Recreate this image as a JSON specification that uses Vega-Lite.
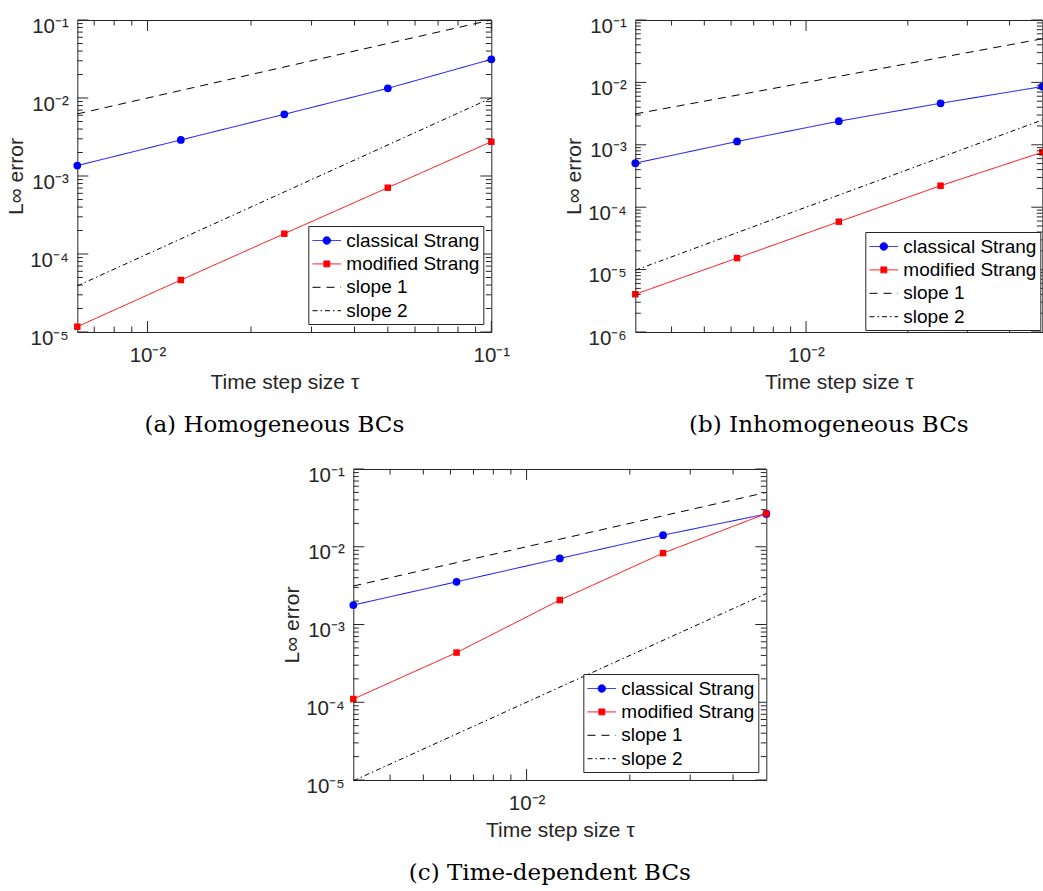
{
  "$schema": "https://vega.github.io/schema/vega-lite/v6.json",
  "background": "white",
  "padding": {"left": 5, "top": 15, "right": 0, "bottom": 0},
  "datasets": {
    "a": [
      {"series": "classical Strang", "tau": 0.00625, "err": 0.00136},
      {"series": "classical Strang", "tau": 0.0125, "err": 0.0029},
      {"series": "classical Strang", "tau": 0.025, "err": 0.00618},
      {"series": "classical Strang", "tau": 0.05, "err": 0.0133},
      {"series": "classical Strang", "tau": 0.1, "err": 0.0313},
      {"series": "modified Strang", "tau": 0.00625, "err": 0.0000117},
      {"series": "modified Strang", "tau": 0.0125, "err": 0.0000464},
      {"series": "modified Strang", "tau": 0.025, "err": 0.000182},
      {"series": "modified Strang", "tau": 0.05, "err": 0.000708},
      {"series": "modified Strang", "tau": 0.1, "err": 0.00275},
      {"series": "slope 1", "tau": 0.00625, "err": 0.00625},
      {"series": "slope 1", "tau": 0.1, "err": 0.1},
      {"series": "slope 2", "tau": 0.00625, "err": 0.0000390625},
      {"series": "slope 2", "tau": 0.1, "err": 0.01}
    ],
    "b": [
      {"series": "classical Strang", "tau": 0.003125, "err": 0.000508},
      {"series": "classical Strang", "tau": 0.00625, "err": 0.00113},
      {"series": "classical Strang", "tau": 0.0125, "err": 0.00239},
      {"series": "classical Strang", "tau": 0.025, "err": 0.00463},
      {"series": "classical Strang", "tau": 0.05, "err": 0.00857},
      {"series": "modified Strang", "tau": 0.003125, "err": 0.00000403},
      {"series": "modified Strang", "tau": 0.00625, "err": 0.0000153},
      {"series": "modified Strang", "tau": 0.0125, "err": 0.0000586},
      {"series": "modified Strang", "tau": 0.025, "err": 0.000221},
      {"series": "modified Strang", "tau": 0.05, "err": 0.00076},
      {"series": "slope 1", "tau": 0.003125, "err": 0.003125},
      {"series": "slope 1", "tau": 0.05, "err": 0.05},
      {"series": "slope 2", "tau": 0.003125, "err": 0.000009765625},
      {"series": "slope 2", "tau": 0.05, "err": 0.0025}
    ],
    "c": [
      {"series": "classical Strang", "tau": 0.003125, "err": 0.00178},
      {"series": "classical Strang", "tau": 0.00625, "err": 0.00354},
      {"series": "classical Strang", "tau": 0.0125, "err": 0.00708},
      {"series": "classical Strang", "tau": 0.025, "err": 0.0141},
      {"series": "classical Strang", "tau": 0.05, "err": 0.0264},
      {"series": "modified Strang", "tau": 0.003125, "err": 0.00011},
      {"series": "modified Strang", "tau": 0.00625, "err": 0.000435},
      {"series": "modified Strang", "tau": 0.0125, "err": 0.00206},
      {"series": "modified Strang", "tau": 0.025, "err": 0.00828},
      {"series": "modified Strang", "tau": 0.05, "err": 0.0267},
      {"series": "slope 1", "tau": 0.003125, "err": 0.003125},
      {"series": "slope 1", "tau": 0.05, "err": 0.05},
      {"series": "slope 2", "tau": 0.003125, "err": 0.000009765625},
      {"series": "slope 2", "tau": 0.05, "err": 0.0025}
    ],
    "ta": [
      {"dir": "x", "v": 0.01, "major": true}, {"dir": "x", "v": 0.1, "major": true},
      {"dir": "x", "v": 0.007, "major": false}, {"dir": "x", "v": 0.008, "major": false}, {"dir": "x", "v": 0.009, "major": false},
      {"dir": "x", "v": 0.02, "major": false}, {"dir": "x", "v": 0.03, "major": false}, {"dir": "x", "v": 0.04, "major": false},
      {"dir": "x", "v": 0.05, "major": false}, {"dir": "x", "v": 0.06, "major": false}, {"dir": "x", "v": 0.07, "major": false},
      {"dir": "x", "v": 0.08, "major": false}, {"dir": "x", "v": 0.09, "major": false},
      {"dir": "y", "v": 0.00001, "major": true}, {"dir": "y", "v": 0.0001, "major": true}, {"dir": "y", "v": 0.001, "major": true},
      {"dir": "y", "v": 0.01, "major": true}, {"dir": "y", "v": 0.1, "major": true},
      {"dir": "y", "v": 0.00002, "major": false}, {"dir": "y", "v": 0.00003, "major": false}, {"dir": "y", "v": 0.00004, "major": false},
      {"dir": "y", "v": 0.00005, "major": false}, {"dir": "y", "v": 0.00006, "major": false}, {"dir": "y", "v": 0.00007, "major": false},
      {"dir": "y", "v": 0.00008, "major": false}, {"dir": "y", "v": 0.00009, "major": false},
      {"dir": "y", "v": 0.0002, "major": false}, {"dir": "y", "v": 0.0003, "major": false}, {"dir": "y", "v": 0.0004, "major": false},
      {"dir": "y", "v": 0.0005, "major": false}, {"dir": "y", "v": 0.0006, "major": false}, {"dir": "y", "v": 0.0007, "major": false},
      {"dir": "y", "v": 0.0008, "major": false}, {"dir": "y", "v": 0.0009, "major": false},
      {"dir": "y", "v": 0.002, "major": false}, {"dir": "y", "v": 0.003, "major": false}, {"dir": "y", "v": 0.004, "major": false},
      {"dir": "y", "v": 0.005, "major": false}, {"dir": "y", "v": 0.006, "major": false}, {"dir": "y", "v": 0.007, "major": false},
      {"dir": "y", "v": 0.008, "major": false}, {"dir": "y", "v": 0.009, "major": false},
      {"dir": "y", "v": 0.02, "major": false}, {"dir": "y", "v": 0.03, "major": false}, {"dir": "y", "v": 0.04, "major": false},
      {"dir": "y", "v": 0.05, "major": false}, {"dir": "y", "v": 0.06, "major": false}, {"dir": "y", "v": 0.07, "major": false},
      {"dir": "y", "v": 0.08, "major": false}, {"dir": "y", "v": 0.09, "major": false}
    ],
    "tb": [
      {"dir": "x", "v": 0.01, "major": true},
      {"dir": "x", "v": 0.004, "major": false}, {"dir": "x", "v": 0.005, "major": false}, {"dir": "x", "v": 0.006, "major": false},
      {"dir": "x", "v": 0.007, "major": false}, {"dir": "x", "v": 0.008, "major": false}, {"dir": "x", "v": 0.009, "major": false},
      {"dir": "x", "v": 0.02, "major": false}, {"dir": "x", "v": 0.03, "major": false}, {"dir": "x", "v": 0.04, "major": false},
      {"dir": "y", "v": 0.000001, "major": true}, {"dir": "y", "v": 0.00001, "major": true}, {"dir": "y", "v": 0.0001, "major": true},
      {"dir": "y", "v": 0.001, "major": true}, {"dir": "y", "v": 0.01, "major": true}, {"dir": "y", "v": 0.1, "major": true},
      {"dir": "y", "v": 0.000002, "major": false}, {"dir": "y", "v": 0.000003, "major": false}, {"dir": "y", "v": 0.000004, "major": false},
      {"dir": "y", "v": 0.000005, "major": false}, {"dir": "y", "v": 0.000006, "major": false}, {"dir": "y", "v": 0.000007, "major": false},
      {"dir": "y", "v": 0.000008, "major": false}, {"dir": "y", "v": 0.000009, "major": false},
      {"dir": "y", "v": 0.00002, "major": false}, {"dir": "y", "v": 0.00003, "major": false}, {"dir": "y", "v": 0.00004, "major": false},
      {"dir": "y", "v": 0.00005, "major": false}, {"dir": "y", "v": 0.00006, "major": false}, {"dir": "y", "v": 0.00007, "major": false},
      {"dir": "y", "v": 0.00008, "major": false}, {"dir": "y", "v": 0.00009, "major": false},
      {"dir": "y", "v": 0.0002, "major": false}, {"dir": "y", "v": 0.0003, "major": false}, {"dir": "y", "v": 0.0004, "major": false},
      {"dir": "y", "v": 0.0005, "major": false}, {"dir": "y", "v": 0.0006, "major": false}, {"dir": "y", "v": 0.0007, "major": false},
      {"dir": "y", "v": 0.0008, "major": false}, {"dir": "y", "v": 0.0009, "major": false},
      {"dir": "y", "v": 0.002, "major": false}, {"dir": "y", "v": 0.003, "major": false}, {"dir": "y", "v": 0.004, "major": false},
      {"dir": "y", "v": 0.005, "major": false}, {"dir": "y", "v": 0.006, "major": false}, {"dir": "y", "v": 0.007, "major": false},
      {"dir": "y", "v": 0.008, "major": false}, {"dir": "y", "v": 0.009, "major": false},
      {"dir": "y", "v": 0.02, "major": false}, {"dir": "y", "v": 0.03, "major": false}, {"dir": "y", "v": 0.04, "major": false},
      {"dir": "y", "v": 0.05, "major": false}, {"dir": "y", "v": 0.06, "major": false}, {"dir": "y", "v": 0.07, "major": false},
      {"dir": "y", "v": 0.08, "major": false}, {"dir": "y", "v": 0.09, "major": false}
    ],
    "tc": [
      {"dir": "x", "v": 0.01, "major": true},
      {"dir": "x", "v": 0.004, "major": false}, {"dir": "x", "v": 0.005, "major": false}, {"dir": "x", "v": 0.006, "major": false},
      {"dir": "x", "v": 0.007, "major": false}, {"dir": "x", "v": 0.008, "major": false}, {"dir": "x", "v": 0.009, "major": false},
      {"dir": "x", "v": 0.02, "major": false}, {"dir": "x", "v": 0.03, "major": false}, {"dir": "x", "v": 0.04, "major": false},
      {"dir": "y", "v": 0.00001, "major": true}, {"dir": "y", "v": 0.0001, "major": true}, {"dir": "y", "v": 0.001, "major": true},
      {"dir": "y", "v": 0.01, "major": true}, {"dir": "y", "v": 0.1, "major": true},
      {"dir": "y", "v": 0.00002, "major": false}, {"dir": "y", "v": 0.00003, "major": false}, {"dir": "y", "v": 0.00004, "major": false},
      {"dir": "y", "v": 0.00005, "major": false}, {"dir": "y", "v": 0.00006, "major": false}, {"dir": "y", "v": 0.00007, "major": false},
      {"dir": "y", "v": 0.00008, "major": false}, {"dir": "y", "v": 0.00009, "major": false},
      {"dir": "y", "v": 0.0002, "major": false}, {"dir": "y", "v": 0.0003, "major": false}, {"dir": "y", "v": 0.0004, "major": false},
      {"dir": "y", "v": 0.0005, "major": false}, {"dir": "y", "v": 0.0006, "major": false}, {"dir": "y", "v": 0.0007, "major": false},
      {"dir": "y", "v": 0.0008, "major": false}, {"dir": "y", "v": 0.0009, "major": false},
      {"dir": "y", "v": 0.002, "major": false}, {"dir": "y", "v": 0.003, "major": false}, {"dir": "y", "v": 0.004, "major": false},
      {"dir": "y", "v": 0.005, "major": false}, {"dir": "y", "v": 0.006, "major": false}, {"dir": "y", "v": 0.007, "major": false},
      {"dir": "y", "v": 0.008, "major": false}, {"dir": "y", "v": 0.009, "major": false},
      {"dir": "y", "v": 0.02, "major": false}, {"dir": "y", "v": 0.03, "major": false}, {"dir": "y", "v": 0.04, "major": false},
      {"dir": "y", "v": 0.05, "major": false}, {"dir": "y", "v": 0.06, "major": false}, {"dir": "y", "v": 0.07, "major": false},
      {"dir": "y", "v": 0.08, "major": false}, {"dir": "y", "v": 0.09, "major": false}
    ]
  },
  "vconcat": [
    {
      "hconcat": [
        {
          "width": 414, "height": 312,
          "title": {"text": "(a) Homogeneous BCs", "orient": "bottom", "anchor": "middle", "frame": "group", "dx": -10, "offset": 21},
          "layer": [
            {
              "data": {"name": "a"},
              "mark": {"type": "line", "strokeWidth": 1},
              "encoding": {
                "x": {"field": "tau", "type": "quantitative", "scale": {"type": "log", "domain": [0.00625, 0.1], "nice": false},
                  "axis": {"orient": "bottom", "values": [0.01, 0.1], "ticks": false, "grid": false, "labelPadding": 13, "labelFlush": false, "labelOverlap": false,
                    "labelExpr": "'10' + ['⁰','⁻¹','⁻²','⁻³','⁻⁴','⁻⁵','⁻⁶'][-round(log(datum.value)/LN10)]", "title": "Time step size τ", "titlePadding": 6}},
                "y": {"field": "err", "type": "quantitative", "scale": {"type": "log", "domain": [0.00001, 0.1], "nice": false},
                  "axis": {"orient": "left", "values": [0.00001, 0.0001, 0.001, 0.01, 0.1], "ticks": false, "grid": false, "labelPadding": 9, "labelOffset": 6, "labelOverlap": false, "labelFlush": false,
                    "labelExpr": "'10' + ['⁰','⁻¹','⁻²','⁻³','⁻⁴','⁻⁵','⁻⁶'][-round(log(datum.value)/LN10)]", "title": "L∞ error", "titlePadding": 3}},
                "color": {"field": "series", "type": "nominal",
                  "scale": {"domain": ["classical Strang", "modified Strang", "slope 1", "slope 2"], "range": ["#0000ff", "#ff0000", "#000000", "#000000"]},
                  "legend": {"title": null, "orient": "bottom-right", "offset": 8, "padding": 3, "symbolOffset": 4, "labelOffset": 8, "rowPadding": 1.4,
                    "encode": {"symbols": {"update": {
                      "shape": {"signal": "datum.value === 'classical Strang' ? 'M-1.3,0H1.3M0.34,0A0.34,0.34 0 1 1 -0.34,0A0.34,0.34 0 1 1 0.34,0Z' : datum.value === 'modified Strang' ? 'M-1.3,0H1.3M-0.27,-0.27H0.27V0.27H-0.27Z' : 'M-1.3,0H1.3'"},
                      "fill": {"signal": "datum.value === 'classical Strang' ? '#0000ff' : datum.value === 'modified Strang' ? '#ff0000' : 'transparent'"},
                      "stroke": {"signal": "datum.value === 'classical Strang' ? '#0000ff' : datum.value === 'modified Strang' ? '#ff0000' : '#000000'"},
                      "strokeDash": {"signal": "datum.value === 'slope 1' ? [8,6] : datum.value === 'slope 2' ? [5,3,1.5,3] : [1,0]"}
                    }}}}},
                "strokeDash": {"field": "series", "type": "nominal",
                  "scale": {"domain": ["classical Strang", "modified Strang", "slope 1", "slope 2"], "range": [[1, 0], [1, 0], [8, 6], [5, 3, 1.5, 3]]}, "legend": null}
              }
            },
            {
              "data": {"name": "a"},
              "transform": [{"filter": "datum.series === 'classical Strang' || datum.series === 'modified Strang'"}],
              "mark": {"type": "point", "filled": true, "opacity": 1, "strokeWidth": 0},
              "encoding": {
                "x": {"field": "tau", "type": "quantitative", "scale": {"type": "log", "domain": [0.00625, 0.1], "nice": false}},
                "y": {"field": "err", "type": "quantitative", "scale": {"type": "log", "domain": [0.00001, 0.1], "nice": false}},
                "color": {"field": "series", "type": "nominal", "legend": null},
                "shape": {"field": "series", "type": "nominal", "scale": {"domain": ["classical Strang", "modified Strang"], "range": ["circle", "square"]}, "legend": null},
                "size": {"field": "series", "type": "nominal", "scale": {"domain": ["classical Strang", "modified Strang"], "range": [60, 42]}, "legend": null}
              }
            },
            {
              "data": {"name": "ta"}, "transform": [{"filter": "datum.dir === 'x' && datum.major"}],
              "mark": {"type": "tick", "orient": "vertical", "size": 11, "thickness": 1, "yOffset": -5.5, "color": "#262626", "opacity": 1},
              "encoding": {"x": {"field": "v", "type": "quantitative", "scale": {"type": "log", "domain": [0.00625, 0.1], "nice": false}},
                "y": {"datum": 0.00001, "type": "quantitative", "scale": {"type": "log", "domain": [0.00001, 0.1], "nice": false}}}
            },
            {
              "data": {"name": "ta"}, "transform": [{"filter": "datum.dir === 'x' && datum.major"}],
              "mark": {"type": "tick", "orient": "vertical", "size": 11, "thickness": 1, "yOffset": 5.5, "color": "#262626", "opacity": 1},
              "encoding": {"x": {"field": "v", "type": "quantitative", "scale": {"type": "log", "domain": [0.00625, 0.1], "nice": false}},
                "y": {"datum": 0.1, "type": "quantitative", "scale": {"type": "log", "domain": [0.00001, 0.1], "nice": false}}}
            },
            {
              "data": {"name": "ta"}, "transform": [{"filter": "datum.dir === 'x' && !datum.major"}],
              "mark": {"type": "tick", "orient": "vertical", "size": 5.5, "thickness": 1, "yOffset": -2.75, "color": "#262626", "opacity": 1},
              "encoding": {"x": {"field": "v", "type": "quantitative", "scale": {"type": "log", "domain": [0.00625, 0.1], "nice": false}},
                "y": {"datum": 0.00001, "type": "quantitative", "scale": {"type": "log", "domain": [0.00001, 0.1], "nice": false}}}
            },
            {
              "data": {"name": "ta"}, "transform": [{"filter": "datum.dir === 'x' && !datum.major"}],
              "mark": {"type": "tick", "orient": "vertical", "size": 5.5, "thickness": 1, "yOffset": 2.75, "color": "#262626", "opacity": 1},
              "encoding": {"x": {"field": "v", "type": "quantitative", "scale": {"type": "log", "domain": [0.00625, 0.1], "nice": false}},
                "y": {"datum": 0.1, "type": "quantitative", "scale": {"type": "log", "domain": [0.00001, 0.1], "nice": false}}}
            },
            {
              "data": {"name": "ta"}, "transform": [{"filter": "datum.dir === 'y' && datum.major"}],
              "mark": {"type": "tick", "orient": "horizontal", "size": 11, "thickness": 1, "xOffset": 5.5, "color": "#262626", "opacity": 1},
              "encoding": {"y": {"field": "v", "type": "quantitative", "scale": {"type": "log", "domain": [0.00001, 0.1], "nice": false}},
                "x": {"datum": 0.00625, "type": "quantitative", "scale": {"type": "log", "domain": [0.00625, 0.1], "nice": false}}}
            },
            {
              "data": {"name": "ta"}, "transform": [{"filter": "datum.dir === 'y' && datum.major"}],
              "mark": {"type": "tick", "orient": "horizontal", "size": 11, "thickness": 1, "xOffset": -5.5, "color": "#262626", "opacity": 1},
              "encoding": {"y": {"field": "v", "type": "quantitative", "scale": {"type": "log", "domain": [0.00001, 0.1], "nice": false}},
                "x": {"datum": 0.1, "type": "quantitative", "scale": {"type": "log", "domain": [0.00625, 0.1], "nice": false}}}
            },
            {
              "data": {"name": "ta"}, "transform": [{"filter": "datum.dir === 'y' && !datum.major"}],
              "mark": {"type": "tick", "orient": "horizontal", "size": 5.5, "thickness": 1, "xOffset": 2.75, "color": "#262626", "opacity": 1},
              "encoding": {"y": {"field": "v", "type": "quantitative", "scale": {"type": "log", "domain": [0.00001, 0.1], "nice": false}},
                "x": {"datum": 0.00625, "type": "quantitative", "scale": {"type": "log", "domain": [0.00625, 0.1], "nice": false}}}
            },
            {
              "data": {"name": "ta"}, "transform": [{"filter": "datum.dir === 'y' && !datum.major"}],
              "mark": {"type": "tick", "orient": "horizontal", "size": 5.5, "thickness": 1, "xOffset": -2.75, "color": "#262626", "opacity": 1},
              "encoding": {"y": {"field": "v", "type": "quantitative", "scale": {"type": "log", "domain": [0.00001, 0.1], "nice": false}},
                "x": {"datum": 0.1, "type": "quantitative", "scale": {"type": "log", "domain": [0.00625, 0.1], "nice": false}}}
            }
          ]
        },
        {
          "width": 407, "height": 312,
          "title": {"text": "(b) Inhomogeneous BCs", "orient": "bottom", "anchor": "middle", "frame": "group", "dx": -10, "offset": 21},
          "layer": [
            {
              "data": {"name": "b"},
              "mark": {"type": "line", "strokeWidth": 1},
              "encoding": {
                "x": {"field": "tau", "type": "quantitative", "scale": {"type": "log", "domain": [0.003125, 0.05], "nice": false},
                  "axis": {"orient": "bottom", "values": [0.01], "ticks": false, "grid": false, "labelPadding": 13, "labelFlush": false, "labelOverlap": false,
                    "labelExpr": "'10' + ['⁰','⁻¹','⁻²','⁻³','⁻⁴','⁻⁵','⁻⁶'][-round(log(datum.value)/LN10)]", "title": "Time step size τ", "titlePadding": 6}},
                "y": {"field": "err", "type": "quantitative", "scale": {"type": "log", "domain": [0.000001, 0.1], "nice": false},
                  "axis": {"orient": "left", "values": [0.000001, 0.00001, 0.0001, 0.001, 0.01, 0.1], "ticks": false, "grid": false, "labelPadding": 9, "labelOffset": 6, "labelOverlap": false, "labelFlush": false,
                    "labelExpr": "'10' + ['⁰','⁻¹','⁻²','⁻³','⁻⁴','⁻⁵','⁻⁶'][-round(log(datum.value)/LN10)]", "title": "L∞ error", "titlePadding": 3}},
                "color": {"field": "series", "type": "nominal",
                  "scale": {"domain": ["classical Strang", "modified Strang", "slope 1", "slope 2"], "range": ["#0000ff", "#ff0000", "#000000", "#000000"]},
                  "legend": {"title": null, "orient": "bottom-right", "offset": 2, "padding": 3, "symbolOffset": 4, "labelOffset": 8, "rowPadding": 1.4,
                    "encode": {"symbols": {"update": {
                      "shape": {"signal": "datum.value === 'classical Strang' ? 'M-1.3,0H1.3M0.34,0A0.34,0.34 0 1 1 -0.34,0A0.34,0.34 0 1 1 0.34,0Z' : datum.value === 'modified Strang' ? 'M-1.3,0H1.3M-0.27,-0.27H0.27V0.27H-0.27Z' : 'M-1.3,0H1.3'"},
                      "fill": {"signal": "datum.value === 'classical Strang' ? '#0000ff' : datum.value === 'modified Strang' ? '#ff0000' : 'transparent'"},
                      "stroke": {"signal": "datum.value === 'classical Strang' ? '#0000ff' : datum.value === 'modified Strang' ? '#ff0000' : '#000000'"},
                      "strokeDash": {"signal": "datum.value === 'slope 1' ? [8,6] : datum.value === 'slope 2' ? [5,3,1.5,3] : [1,0]"}
                    }}}}},
                "strokeDash": {"field": "series", "type": "nominal",
                  "scale": {"domain": ["classical Strang", "modified Strang", "slope 1", "slope 2"], "range": [[1, 0], [1, 0], [8, 6], [5, 3, 1.5, 3]]}, "legend": null}
              }
            },
            {
              "data": {"name": "b"},
              "transform": [{"filter": "datum.series === 'classical Strang' || datum.series === 'modified Strang'"}],
              "mark": {"type": "point", "filled": true, "opacity": 1, "strokeWidth": 0},
              "encoding": {
                "x": {"field": "tau", "type": "quantitative", "scale": {"type": "log", "domain": [0.003125, 0.05], "nice": false}},
                "y": {"field": "err", "type": "quantitative", "scale": {"type": "log", "domain": [0.000001, 0.1], "nice": false}},
                "color": {"field": "series", "type": "nominal", "legend": null},
                "shape": {"field": "series", "type": "nominal", "scale": {"domain": ["classical Strang", "modified Strang"], "range": ["circle", "square"]}, "legend": null},
                "size": {"field": "series", "type": "nominal", "scale": {"domain": ["classical Strang", "modified Strang"], "range": [60, 42]}, "legend": null}
              }
            },
            {
              "data": {"name": "tb"}, "transform": [{"filter": "datum.dir === 'x' && datum.major"}],
              "mark": {"type": "tick", "orient": "vertical", "size": 11, "thickness": 1, "yOffset": -5.5, "color": "#262626", "opacity": 1},
              "encoding": {"x": {"field": "v", "type": "quantitative", "scale": {"type": "log", "domain": [0.003125, 0.05], "nice": false}},
                "y": {"datum": 0.000001, "type": "quantitative", "scale": {"type": "log", "domain": [0.000001, 0.1], "nice": false}}}
            },
            {
              "data": {"name": "tb"}, "transform": [{"filter": "datum.dir === 'x' && datum.major"}],
              "mark": {"type": "tick", "orient": "vertical", "size": 11, "thickness": 1, "yOffset": 5.5, "color": "#262626", "opacity": 1},
              "encoding": {"x": {"field": "v", "type": "quantitative", "scale": {"type": "log", "domain": [0.003125, 0.05], "nice": false}},
                "y": {"datum": 0.1, "type": "quantitative", "scale": {"type": "log", "domain": [0.000001, 0.1], "nice": false}}}
            },
            {
              "data": {"name": "tb"}, "transform": [{"filter": "datum.dir === 'x' && !datum.major"}],
              "mark": {"type": "tick", "orient": "vertical", "size": 5.5, "thickness": 1, "yOffset": -2.75, "color": "#262626", "opacity": 1},
              "encoding": {"x": {"field": "v", "type": "quantitative", "scale": {"type": "log", "domain": [0.003125, 0.05], "nice": false}},
                "y": {"datum": 0.000001, "type": "quantitative", "scale": {"type": "log", "domain": [0.000001, 0.1], "nice": false}}}
            },
            {
              "data": {"name": "tb"}, "transform": [{"filter": "datum.dir === 'x' && !datum.major"}],
              "mark": {"type": "tick", "orient": "vertical", "size": 5.5, "thickness": 1, "yOffset": 2.75, "color": "#262626", "opacity": 1},
              "encoding": {"x": {"field": "v", "type": "quantitative", "scale": {"type": "log", "domain": [0.003125, 0.05], "nice": false}},
                "y": {"datum": 0.1, "type": "quantitative", "scale": {"type": "log", "domain": [0.000001, 0.1], "nice": false}}}
            },
            {
              "data": {"name": "tb"}, "transform": [{"filter": "datum.dir === 'y' && datum.major"}],
              "mark": {"type": "tick", "orient": "horizontal", "size": 11, "thickness": 1, "xOffset": 5.5, "color": "#262626", "opacity": 1},
              "encoding": {"y": {"field": "v", "type": "quantitative", "scale": {"type": "log", "domain": [0.000001, 0.1], "nice": false}},
                "x": {"datum": 0.003125, "type": "quantitative", "scale": {"type": "log", "domain": [0.003125, 0.05], "nice": false}}}
            },
            {
              "data": {"name": "tb"}, "transform": [{"filter": "datum.dir === 'y' && datum.major"}],
              "mark": {"type": "tick", "orient": "horizontal", "size": 11, "thickness": 1, "xOffset": -5.5, "color": "#262626", "opacity": 1},
              "encoding": {"y": {"field": "v", "type": "quantitative", "scale": {"type": "log", "domain": [0.000001, 0.1], "nice": false}},
                "x": {"datum": 0.05, "type": "quantitative", "scale": {"type": "log", "domain": [0.003125, 0.05], "nice": false}}}
            },
            {
              "data": {"name": "tb"}, "transform": [{"filter": "datum.dir === 'y' && !datum.major"}],
              "mark": {"type": "tick", "orient": "horizontal", "size": 5.5, "thickness": 1, "xOffset": 2.75, "color": "#262626", "opacity": 1},
              "encoding": {"y": {"field": "v", "type": "quantitative", "scale": {"type": "log", "domain": [0.000001, 0.1], "nice": false}},
                "x": {"datum": 0.003125, "type": "quantitative", "scale": {"type": "log", "domain": [0.003125, 0.05], "nice": false}}}
            },
            {
              "data": {"name": "tb"}, "transform": [{"filter": "datum.dir === 'y' && !datum.major"}],
              "mark": {"type": "tick", "orient": "horizontal", "size": 5.5, "thickness": 1, "xOffset": -2.75, "color": "#262626", "opacity": 1},
              "encoding": {"y": {"field": "v", "type": "quantitative", "scale": {"type": "log", "domain": [0.000001, 0.1], "nice": false}},
                "x": {"datum": 0.05, "type": "quantitative", "scale": {"type": "log", "domain": [0.003125, 0.05], "nice": false}}}
            }
          ]
        }
      ],
      "spacing": 52,
      "resolve": {
        "scale": {"color": "independent", "strokeDash": "independent", "shape": "independent", "size": "independent"},
        "legend": {"color": "independent", "strokeDash": "independent", "shape": "independent", "size": "independent"}
      }
    },
    {
      "width": 413, "height": 311,
      "title": {"text": "(c) Time-dependent BCs", "orient": "bottom", "anchor": "middle", "frame": "group", "dx": -10, "offset": 21},
      "layer": [
        {
          "data": {"name": "c"},
          "mark": {"type": "line", "strokeWidth": 1},
          "encoding": {
            "x": {"field": "tau", "type": "quantitative", "scale": {"type": "log", "domain": [0.003125, 0.05], "nice": false},
              "axis": {"orient": "bottom", "values": [0.01], "ticks": false, "grid": false, "labelPadding": 13, "labelFlush": false, "labelOverlap": false,
                "labelExpr": "'10' + ['⁰','⁻¹','⁻²','⁻³','⁻⁴','⁻⁵','⁻⁶'][-round(log(datum.value)/LN10)]", "title": "Time step size τ", "titlePadding": 6}},
            "y": {"field": "err", "type": "quantitative", "scale": {"type": "log", "domain": [0.00001, 0.1], "nice": false},
              "axis": {"orient": "left", "values": [0.00001, 0.0001, 0.001, 0.01, 0.1], "ticks": false, "grid": false, "labelPadding": 9, "labelOffset": 6, "labelOverlap": false, "labelFlush": false,
                "labelExpr": "'10' + ['⁰','⁻¹','⁻²','⁻³','⁻⁴','⁻⁵','⁻⁶'][-round(log(datum.value)/LN10)]", "title": "L∞ error", "titlePadding": 3}},
            "color": {"field": "series", "type": "nominal",
              "scale": {"domain": ["classical Strang", "modified Strang", "slope 1", "slope 2"], "range": ["#0000ff", "#ff0000", "#000000", "#000000"]},
              "legend": {"title": null, "orient": "bottom-right", "offset": 8, "padding": 3, "symbolOffset": 4, "labelOffset": 8, "rowPadding": 1.4,
                "encode": {"symbols": {"update": {
                  "shape": {"signal": "datum.value === 'classical Strang' ? 'M-1.3,0H1.3M0.34,0A0.34,0.34 0 1 1 -0.34,0A0.34,0.34 0 1 1 0.34,0Z' : datum.value === 'modified Strang' ? 'M-1.3,0H1.3M-0.27,-0.27H0.27V0.27H-0.27Z' : 'M-1.3,0H1.3'"},
                  "fill": {"signal": "datum.value === 'classical Strang' ? '#0000ff' : datum.value === 'modified Strang' ? '#ff0000' : 'transparent'"},
                  "stroke": {"signal": "datum.value === 'classical Strang' ? '#0000ff' : datum.value === 'modified Strang' ? '#ff0000' : '#000000'"},
                  "strokeDash": {"signal": "datum.value === 'slope 1' ? [8,6] : datum.value === 'slope 2' ? [5,3,1.5,3] : [1,0]"}
                }}}}},
            "strokeDash": {"field": "series", "type": "nominal",
              "scale": {"domain": ["classical Strang", "modified Strang", "slope 1", "slope 2"], "range": [[1, 0], [1, 0], [8, 6], [5, 3, 1.5, 3]]}, "legend": null}
          }
        },
        {
          "data": {"name": "c"},
          "transform": [{"filter": "datum.series === 'classical Strang' || datum.series === 'modified Strang'"}],
          "mark": {"type": "point", "filled": true, "opacity": 1, "strokeWidth": 0},
          "encoding": {
            "x": {"field": "tau", "type": "quantitative", "scale": {"type": "log", "domain": [0.003125, 0.05], "nice": false}},
            "y": {"field": "err", "type": "quantitative", "scale": {"type": "log", "domain": [0.00001, 0.1], "nice": false}},
            "color": {"field": "series", "type": "nominal", "legend": null},
            "shape": {"field": "series", "type": "nominal", "scale": {"domain": ["classical Strang", "modified Strang"], "range": ["circle", "square"]}, "legend": null},
            "size": {"field": "series", "type": "nominal", "scale": {"domain": ["classical Strang", "modified Strang"], "range": [60, 42]}, "legend": null}
          }
        },
        {
          "data": {"name": "tc"}, "transform": [{"filter": "datum.dir === 'x' && datum.major"}],
          "mark": {"type": "tick", "orient": "vertical", "size": 11, "thickness": 1, "yOffset": -5.5, "color": "#262626", "opacity": 1},
          "encoding": {"x": {"field": "v", "type": "quantitative", "scale": {"type": "log", "domain": [0.003125, 0.05], "nice": false}},
            "y": {"datum": 0.00001, "type": "quantitative", "scale": {"type": "log", "domain": [0.00001, 0.1], "nice": false}}}
        },
        {
          "data": {"name": "tc"}, "transform": [{"filter": "datum.dir === 'x' && datum.major"}],
          "mark": {"type": "tick", "orient": "vertical", "size": 11, "thickness": 1, "yOffset": 5.5, "color": "#262626", "opacity": 1},
          "encoding": {"x": {"field": "v", "type": "quantitative", "scale": {"type": "log", "domain": [0.003125, 0.05], "nice": false}},
            "y": {"datum": 0.1, "type": "quantitative", "scale": {"type": "log", "domain": [0.00001, 0.1], "nice": false}}}
        },
        {
          "data": {"name": "tc"}, "transform": [{"filter": "datum.dir === 'x' && !datum.major"}],
          "mark": {"type": "tick", "orient": "vertical", "size": 5.5, "thickness": 1, "yOffset": -2.75, "color": "#262626", "opacity": 1},
          "encoding": {"x": {"field": "v", "type": "quantitative", "scale": {"type": "log", "domain": [0.003125, 0.05], "nice": false}},
            "y": {"datum": 0.00001, "type": "quantitative", "scale": {"type": "log", "domain": [0.00001, 0.1], "nice": false}}}
        },
        {
          "data": {"name": "tc"}, "transform": [{"filter": "datum.dir === 'x' && !datum.major"}],
          "mark": {"type": "tick", "orient": "vertical", "size": 5.5, "thickness": 1, "yOffset": 2.75, "color": "#262626", "opacity": 1},
          "encoding": {"x": {"field": "v", "type": "quantitative", "scale": {"type": "log", "domain": [0.003125, 0.05], "nice": false}},
            "y": {"datum": 0.1, "type": "quantitative", "scale": {"type": "log", "domain": [0.00001, 0.1], "nice": false}}}
        },
        {
          "data": {"name": "tc"}, "transform": [{"filter": "datum.dir === 'y' && datum.major"}],
          "mark": {"type": "tick", "orient": "horizontal", "size": 11, "thickness": 1, "xOffset": 5.5, "color": "#262626", "opacity": 1},
          "encoding": {"y": {"field": "v", "type": "quantitative", "scale": {"type": "log", "domain": [0.00001, 0.1], "nice": false}},
            "x": {"datum": 0.003125, "type": "quantitative", "scale": {"type": "log", "domain": [0.003125, 0.05], "nice": false}}}
        },
        {
          "data": {"name": "tc"}, "transform": [{"filter": "datum.dir === 'y' && datum.major"}],
          "mark": {"type": "tick", "orient": "horizontal", "size": 11, "thickness": 1, "xOffset": -5.5, "color": "#262626", "opacity": 1},
          "encoding": {"y": {"field": "v", "type": "quantitative", "scale": {"type": "log", "domain": [0.00001, 0.1], "nice": false}},
            "x": {"datum": 0.05, "type": "quantitative", "scale": {"type": "log", "domain": [0.003125, 0.05], "nice": false}}}
        },
        {
          "data": {"name": "tc"}, "transform": [{"filter": "datum.dir === 'y' && !datum.major"}],
          "mark": {"type": "tick", "orient": "horizontal", "size": 5.5, "thickness": 1, "xOffset": 2.75, "color": "#262626", "opacity": 1},
          "encoding": {"y": {"field": "v", "type": "quantitative", "scale": {"type": "log", "domain": [0.00001, 0.1], "nice": false}},
            "x": {"datum": 0.003125, "type": "quantitative", "scale": {"type": "log", "domain": [0.003125, 0.05], "nice": false}}}
        },
        {
          "data": {"name": "tc"}, "transform": [{"filter": "datum.dir === 'y' && !datum.major"}],
          "mark": {"type": "tick", "orient": "horizontal", "size": 5.5, "thickness": 1, "xOffset": -2.75, "color": "#262626", "opacity": 1},
          "encoding": {"y": {"field": "v", "type": "quantitative", "scale": {"type": "log", "domain": [0.00001, 0.1], "nice": false}},
            "x": {"datum": 0.05, "type": "quantitative", "scale": {"type": "log", "domain": [0.003125, 0.05], "nice": false}}}
        }
      ]
    }
  ],
  "spacing": 27,
  "center": true,
  "resolve": {
    "scale": {"color": "independent", "strokeDash": "independent", "shape": "independent", "size": "independent"},
    "legend": {"color": "independent", "strokeDash": "independent", "shape": "independent", "size": "independent"}
  },
  "config": {
    "view": {"stroke": "#262626", "strokeWidth": 1},
    "axis": {"domain": false, "grid": false,
      "labelFont": "Liberation Sans", "labelFontSize": 20.5, "labelColor": "#262626",
      "titleFont": "Liberation Sans", "titleFontSize": 21, "titleFontWeight": "normal", "titleColor": "#262626"},
    "legend": {"fillColor": "white", "strokeColor": "#262626", "strokeWidth": 1,
      "labelFont": "Liberation Sans", "labelFontSize": 19, "labelColor": "#000000", "labelLimit": 300,
      "symbolSize": 484, "symbolStrokeWidth": 1},
    "title": {"font": "DejaVu Serif", "fontSize": 23, "fontWeight": "normal", "color": "#000000"}
  }
}
